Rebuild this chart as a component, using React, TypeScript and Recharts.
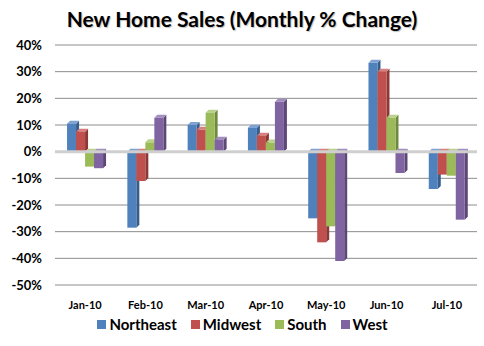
import React from "react";
import { BarChart, Bar, XAxis, YAxis, CartesianGrid, Legend, ReferenceLine } from "recharts";

const months = ["Jan-10", "Feb-10", "Mar-10", "Apr-10", "May-10", "Jun-10", "Jul-10"];
const northeast = [10.5, -28.5, 10, 9, -25, 33.3, -14];
const midwest = [7.5, -11, 8.2, 6, -34, 30, -8.6];
const south = [-5.6, 3.5, 14.6, 3.4, -28, 12.7, -9];
const west = [-6.2, 12.7, 4.5, 18.7, -41, -8, -25.5];
const yTicks = [-50, -40, -30, -20, -10, 0, 10, 20, 30, 40];

const seriesNames = ["Northeast", "Midwest", "South", "West"];
const colors = ["#4F81BD", "#C0504D", "#9BBB59", "#8064A2"];
const sides = ["#385D8A", "#8C3836", "#71893F", "#5C4776"];
const tops = ["#7EA3D3", "#D7807E", "#B9D18A", "#A28DC0"];

const data = months.map((m, i) => ({
  month: m,
  Northeast: northeast[i],
  Midwest: midwest[i],
  South: south[i],
  West: west[i],
}));

const FONT = "Lato, 'Open Sans', sans-serif";

const makeShape = (idx: number) => (props: any) => {
  const { x, y, width, height } = props;
  if (x == null || y == null) return null;
  const top = Math.min(y, y + height);
  const h = Math.abs(height);
  const d = 3;
  const u = 3;
  return (
    <g>
      <polygon
        points={`${x + width},${top} ${x + width + d},${top - u} ${x + width + d},${top + h - u} ${x + width},${top + h}`}
        fill={sides[idx]}
      />
      <polygon
        points={`${x},${top} ${x + d},${top - u} ${x + width + d},${top - u} ${x + width},${top}`}
        fill={tops[idx]}
      />
      <rect x={x} y={top} width={width} height={h} fill={colors[idx]} />
    </g>
  );
};

const LegendContent = () => (
  <div
    style={{
      display: "flex",
      justifyContent: "center",
      alignItems: "center",
      fontFamily: FONT,
      fontWeight: 700,
      fontSize: 15,
      color: "#000",
      paddingLeft: 8,
    }}
  >
    {seriesNames.map((n, i) => (
      <div key={n} style={{ display: "flex", alignItems: "center", marginRight: i < 3 ? 14 : 0 }}>
        <span style={{ display: "inline-block", width: 9, height: 9, background: colors[i], marginRight: 3 }} />
        <span>{n}</span>
      </div>
    ))}
  </div>
);

export default function App() {
  return (
    <div style={{ position: "absolute", left: 0, top: 0, width: 484, height: 346, background: "#fff" }}>
      <div
        style={{
          position: "absolute",
          top: 6,
          left: 0,
          width: 484,
          textAlign: "center",
          fontFamily: FONT,
          fontWeight: 700,
          fontSize: 21,
          color: "#000",
          textShadow: "1px 1px 1px rgba(0,0,0,0.25)",
        }}
      >
        New Home Sales (Monthly % Change)
      </div>
      <BarChart
        width={484}
        height={346}
        data={data}
        margin={{ top: 45, right: 7, left: 0, bottom: 0 }}
        barCategoryGap="20%"
        barGap={0}
      >
        <CartesianGrid vertical={false} stroke="#8c8c8c" strokeWidth={1} />
        <ReferenceLine y={0} stroke="#cfcfcf" strokeWidth={3} />
        <XAxis
          dataKey="month"
          axisLine={false}
          tickLine={false}
          height={30}
          tickMargin={10}
          tick={{ fontFamily: FONT, fontWeight: 700, fontSize: 11, fill: "#000" }}
        />
        <YAxis
          domain={[-50, 40]}
          ticks={yTicks}
          width={55}
          axisLine={false}
          tickLine={false}
          tickSize={0}
          tickMargin={13}
          tickFormatter={(v: number) => `${v}%`}
          tick={{ fontFamily: FONT, fontWeight: 700, fontSize: 13, fill: "#000" }}
        />
        <Legend verticalAlign="bottom" height={31} content={<LegendContent />} />
        {seriesNames.map((n, i) => (
          <Bar key={n} dataKey={n} fill={colors[i]} isAnimationActive={false} shape={makeShape(i)} />
        ))}
      </BarChart>
    </div>
  );
}
